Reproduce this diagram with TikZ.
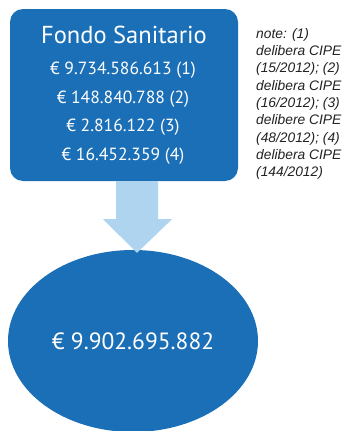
\documentclass[tikz,border=0pt]{standalone}
\usepackage{fontspec}
\setmainfont{PT Sans}
\newfontfamily\notefont{Liberation Sans}
\usetikzlibrary{positioning}
\usetikzlibrary{calc}
\usetikzlibrary{shapes.geometric}
\definecolor{fondoblue}{HTML}{1B6FB7}
\definecolor{flowblue}{HTML}{AED4EF}
\definecolor{notegray}{HTML}{222222}
\tikzset{
	fondo/.style={ % blocco principale e totale
			fill=fondoblue,
			text=white
		},
	riga/.style={ % righe con gli importi
			text=white,
			font=\fontsize{17.6}{19}\selectfont
		},
	flow/.style={fill=flowblue}
}

\begin{document}
\begin{tikzpicture}[x=1pt,y=-1pt]
	\useasboundingbox (0,0) rectangle (347,431);
	% riquadro con le quattro delibere
	\node[fondo, rounded corners=13pt, minimum width=228pt, minimum height=172pt] (box) at (124,95) {};
	\node[riga, font=\fontsize{24.5}{26}\selectfont] (titolo) at (124,35) {Fondo Sanitario};
	\node[riga] (r1) at (123,70) {€ 9.734.586.613 (1)};
	\node[riga] (r2) at (123,99) {€ 148.840.788 (2)};
	\node[riga] (r3) at (123,127) {€ 2.816.122 (3)};
	\node[riga] (r4) at (123,156) {€ 16.452.359 (4)};
	% totale
	\node[fondo, ellipse, inner sep=0pt, minimum width=250pt, minimum height=182pt, font=\fontsize{23.5}{25}\selectfont] (tot) at (133,341) {€ 9.902.695.882};
	% freccia dal riquadro al totale
	\coordinate (tip) at ($(tot.north)+(4,3)$);
	\fill[flow] ($(box.south)+(-8,0)$) -- ($(box.south)+(34,0)$) -- ($(box.south)+(34,38)$)
		-- ($(box.south)+(48,38)$) -- (tip) -- ($(box.south)+(-21,38)$) -- ($(box.south)+(-8,38)$) -- cycle;
	% note a lato
	\node[anchor=north west, align=left, text=notegray, inner sep=0pt,
		font=\notefont\itshape\fontsize{13.8}{17.3}\selectfont] (note) at (256,28)
		{note: (1)\\delibera CIPE\\(15/2012); (2)\\delibera CIPE\\(16/2012); (3)\\delibere CIPE\\(48/2012); (4)\\delibera CIPE\\(144/2012)};
\end{tikzpicture}
\end{document}
